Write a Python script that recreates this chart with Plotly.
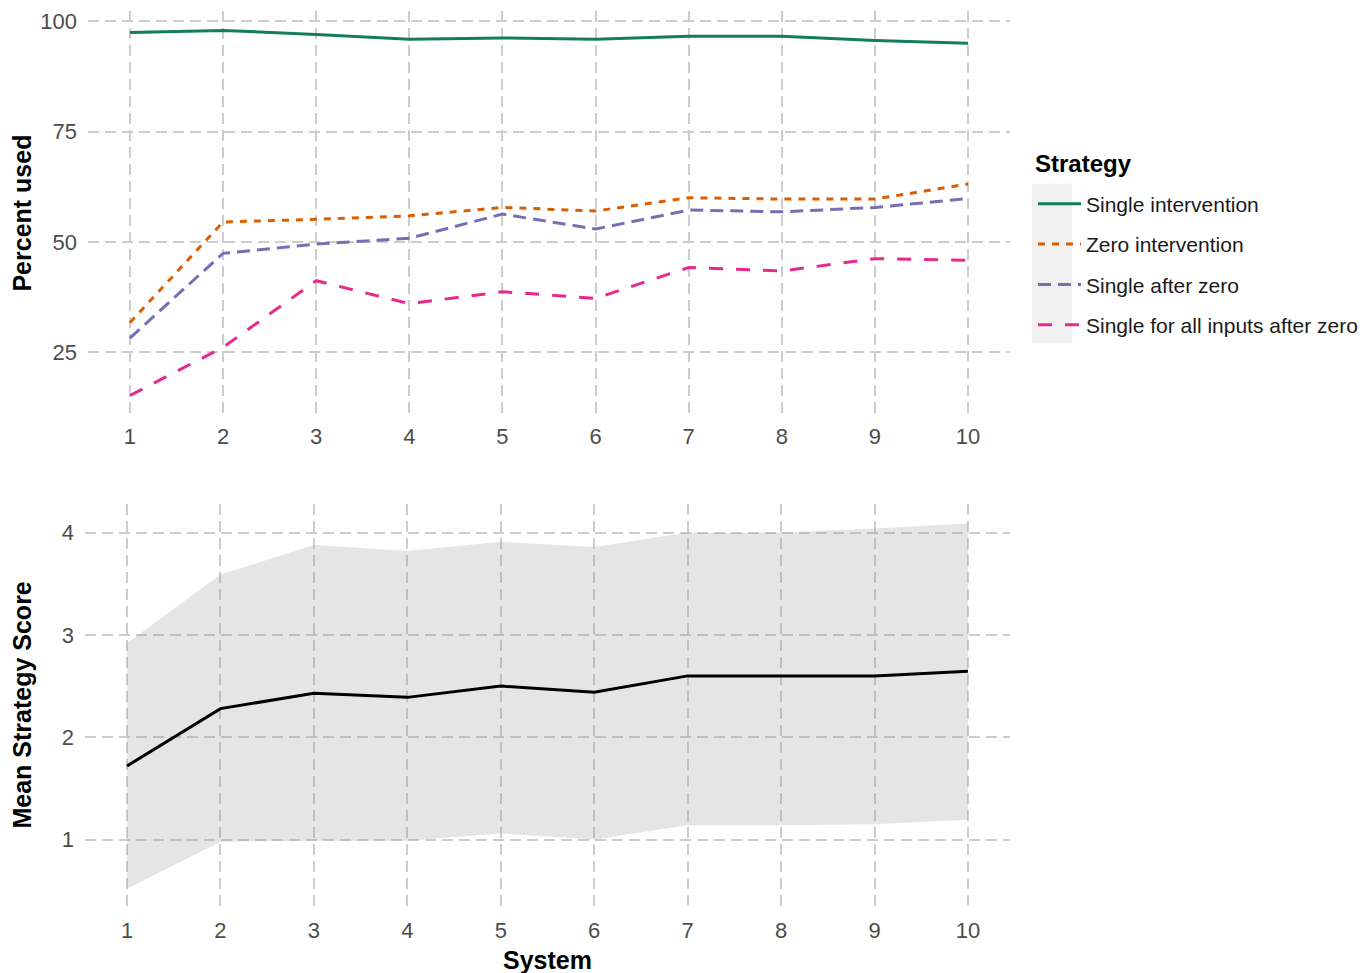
import plotly.graph_objects as go

# ---- data ----
systems = [1, 2, 3, 4, 5, 6, 7, 8, 9, 10]

single_intervention = [97.4, 97.9, 97.0, 95.9, 96.2, 95.9, 96.6, 96.6, 95.6, 95.0]
zero_intervention = [31.7, 54.5, 55.1, 55.9, 57.8, 57.0, 60.0, 59.7, 59.7, 63.1]
single_after_zero = [28.2, 47.4, 49.5, 50.8, 56.3, 52.9, 57.2, 56.8, 57.8, 59.8]
single_all_after_zero = [15.2, 26.1, 41.2, 36.0, 38.7, 37.2, 44.2, 43.4, 46.2, 45.8]

mean_score = [1.72, 2.28, 2.43, 2.39, 2.50, 2.44, 2.60, 2.60, 2.60, 2.645]
score_upper = [2.92, 3.59, 3.88, 3.82, 3.91, 3.86, 4.00, 4.00, 4.04, 4.09]
score_lower = [0.52, 0.98, 0.99, 0.99, 1.06, 1.00, 1.14, 1.14, 1.15, 1.195]

series_names = ["Single intervention", "Zero intervention", "Single after zero",
                "Single for all inputs after zero"]
series_values = [single_intervention, zero_intervention, single_after_zero, single_all_after_zero]
series_colors = ["#147d5a", "#d95f02", "#7570b3", "#e7298a"]
series_dash = ["solid", "7px,7px", "13px,7px", "14px,13px"]

top_yticks = [25, 50, 75, 100]
bottom_yticks = [1, 2, 3, 4]

W, H = 1371, 973
FONT = "Liberation Sans, Arial, sans-serif"
GRID = "#cdcdcd"
TICKC = "#4d4d4d"

fig = go.Figure()

for name, vals, col, dash in zip(series_names, series_values, series_colors, series_dash):
    fig.add_trace(go.Scatter(
        x=systems, y=vals, mode="lines", name=name, legendgroup=name,
        line=dict(color=col, width=3, dash=dash),
        xaxis="x", yaxis="y", showlegend=True,
    ))

# ribbon
fig.add_trace(go.Scatter(x=systems, y=score_lower, mode="lines", line=dict(width=0, color="rgba(0,0,0,0)"),
                         xaxis="x2", yaxis="y2", showlegend=False, hoverinfo="skip"))
fig.add_trace(go.Scatter(x=systems, y=score_upper, mode="lines", line=dict(width=0, color="rgba(0,0,0,0)"),
                         fill="tonexty", fillcolor="rgba(150,150,150,0.25)",
                         xaxis="x2", yaxis="y2", showlegend=False, hoverinfo="skip"))
fig.add_trace(go.Scatter(x=systems, y=mean_score, mode="lines", line=dict(color="black", width=3),
                         xaxis="x2", yaxis="y2", showlegend=False))

axis_common = dict(showgrid=True, gridcolor=GRID, griddash="11px,6px", gridwidth=1.5,
                   zeroline=False, showline=False, ticks="",
                   tickfont=dict(family=FONT, size=22, color=TICKC))
xcommon = dict(ticklabelstandoff=8, **axis_common)
ycommon = dict(ticklabelstandoff=10, **axis_common)

fig.update_layout(
    width=W, height=H,
    margin=dict(l=0, r=0, t=0, b=0),
    paper_bgcolor="white", plot_bgcolor="white",
    font=dict(family=FONT),
    xaxis=dict(domain=[88 / W, 1010 / W], range=[0.55, 10.45], tickvals=systems,
               anchor="y", **xcommon),
    yaxis=dict(domain=[(H - 412) / H, (H - 9) / H], range=[11.2, 102.3], tickvals=top_yticks,
               anchor="x", **ycommon),
    xaxis2=dict(domain=[85 / W, 1010 / W], range=[0.55, 10.45], tickvals=systems,
                anchor="y2", **xcommon),
    yaxis2=dict(domain=[(H - 907) / H, (H - 503) / H], range=[0.34, 4.28], tickvals=bottom_yticks,
                anchor="x2", **ycommon),
    legend=dict(
        x=1033 / W, xanchor="left", y=(H - 182) / H, yanchor="top",
        bgcolor="rgba(0,0,0,0)",
        font=dict(family=FONT, size=21, color="#1a1a1a"),
        tracegroupgap=10, itemwidth=43,
    ),
    shapes=[dict(type="rect", xref="paper", yref="paper",
                 x0=1032 / W, x1=1072 / W, y0=(H - 342) / H, y1=(H - 182) / H,
                 fillcolor="#f0f0f0", line=dict(width=0), layer="below")],
    annotations=[
        dict(text="<b>Strategy</b>", xref="paper", yref="paper", x=1033 / W, y=(H - 162) / H,
             showarrow=False, font=dict(family=FONT, size=24, color="black"),
             xanchor="left", yanchor="middle"),
        dict(text="<b>Percent used</b>", xref="paper", yref="paper", x=22 / W, y=(H - 212) / H,
             textangle=-90, showarrow=False, font=dict(family=FONT, size=25, color="black"),
             xanchor="center", yanchor="middle"),
        dict(text="<b>Mean Strategy Score</b>", xref="paper", yref="paper", x=22 / W, y=(H - 705) / H,
             textangle=-90, showarrow=False, font=dict(family=FONT, size=25, color="black"),
             xanchor="center", yanchor="middle"),
        dict(text="<b>System</b>", xref="paper", yref="paper", x=547 / W, y=(H - 960) / H,
             showarrow=False, font=dict(family=FONT, size=25, color="black"),
             xanchor="center", yanchor="middle"),
    ],
)

fig.write_html("out.html", config={"displayModeBar": False},
               post_script="document.body.style.margin='0';")
